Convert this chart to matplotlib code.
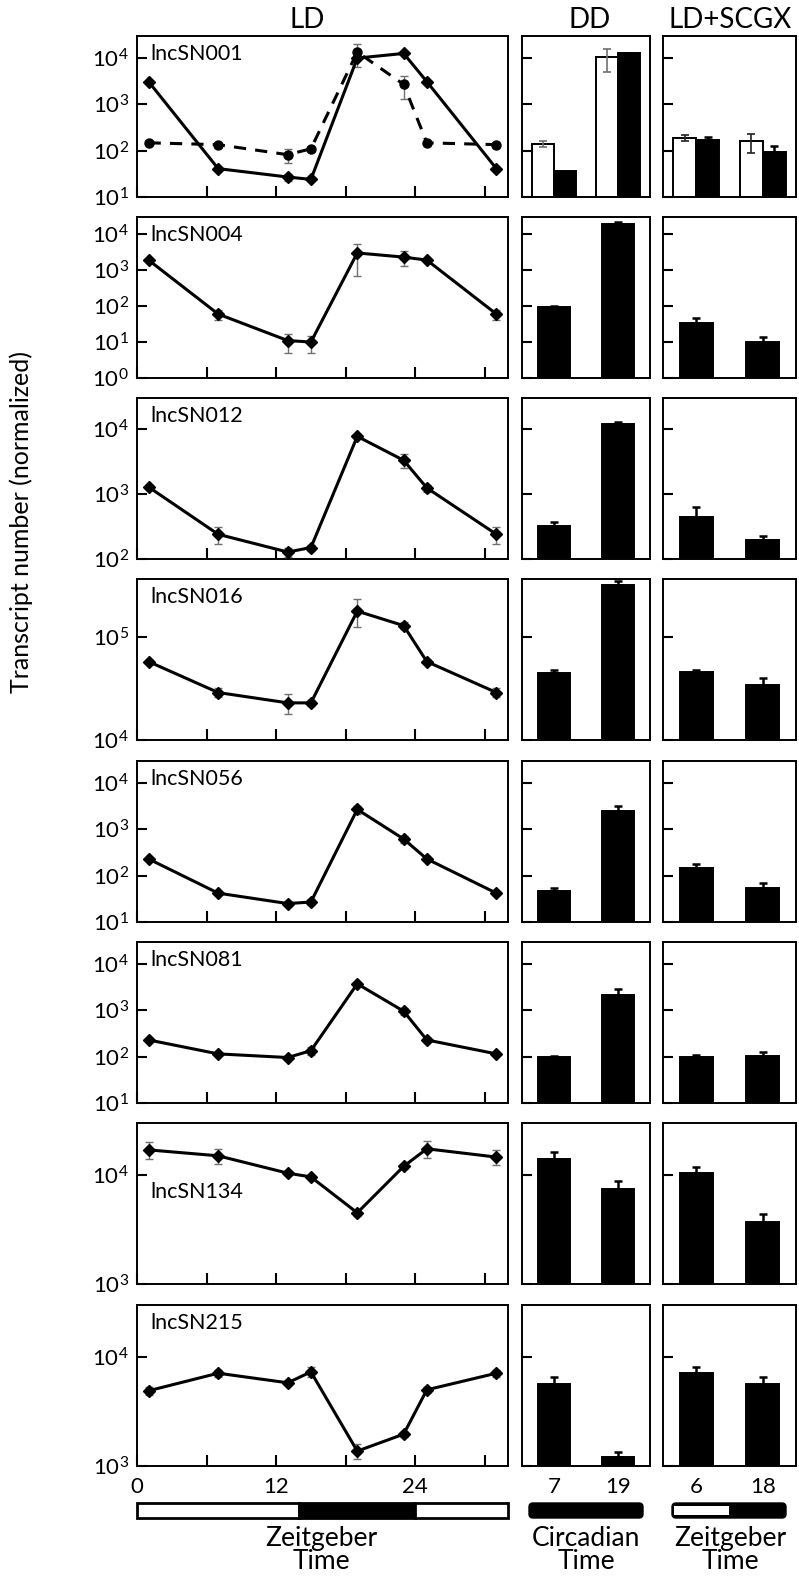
import matplotlib.pyplot as plt
from matplotlib.ticker import NullLocator
from matplotlib.patches import FancyBboxPatch, Rectangle

plt.rcParams['font.family'] = ['Lato', 'DejaVu Sans']

# sampling times
zt = [1, 7, 13, 15, 19, 23, 25, 31]
dd_ct = [7, 19]
sc_zt = [6, 18]
genes = ['lncSN001', 'lncSN004', 'lncSN012', 'lncSN016',
         'lncSN056', 'lncSN081', 'lncSN134', 'lncSN215']

# LD time course (mean, sd)
ld_001 = [3100, 41, 27, 24, 10000, 12600, 3100, 41]
ld_001_err = [150, 4, 5, 2, 400, 500, 150, 4]
ld_001_b = [148, 135, 82, 110, 13500, 2700, 148, 135]      # dashed series
ld_001_b_err = [8, 8, 28, 8, 7000, 1400, 8, 8]
ld_004 = [1900, 60, 11, 10, 3000, 2300, 1900, 60]
ld_004_err = [100, 20, 6, 5, 2300, 1000, 100, 20]
ld_012 = [1280, 240, 128, 150, 7700, 3300, 1240, 240]
ld_012_err = [100, 70, 20, 15, 300, 800, 150, 70]
ld_016 = [58000, 29000, 23000, 23000, 180000, 130000, 58000, 29000]
ld_016_err = [2000, 3000, 5000, 1500, 55000, 10000, 2000, 3000]
ld_056 = [230, 42, 25, 27, 2700, 620, 230, 42]
ld_056_err = [10, 3, 3, 4, 550, 110, 10, 3]
ld_081 = [230, 115, 96, 135, 3750, 960, 230, 115]
ld_081_err = [10, 8, 8, 25, 200, 150, 10, 8]
ld_134 = [17000, 15000, 10400, 9600, 4500, 12000, 17400, 14600]
ld_134_err = [3000, 2500, 500, 400, 300, 700, 3000, 2300]
ld_215 = [4900, 7100, 5800, 7300, 1370, 1960, 5000, 7100]
ld_215_err = [400, 500, 300, 800, 210, 100, 300, 500]

# DD bars (CT7, CT19)
dd_001_w = [140, 10500]
dd_001_w_err = [20, 5500]
dd_001 = [36, 12600]
dd_001_err = [0, 400]
dd_004 = [95, 19000]
dd_004_err = [3, 2500]
dd_012 = [320, 12000]
dd_012_err = [50, 600]
dd_016 = [45000, 325000]
dd_016_err = [3000, 30000]
dd_056 = [46, 2520]
dd_056_err = [7, 680]
dd_081 = [100, 2200]
dd_081_err = [3, 700]
dd_134 = [14000, 7500]
dd_134_err = [2400, 1300]
dd_215 = [5600, 1210]
dd_215_err = [900, 140]

# LD+SCGX bars (ZT6, ZT18)
sc_001_w = [190, 160]
sc_001_w_err = [28, 70]
sc_001 = [170, 95]
sc_001_err = [30, 32]
sc_004 = [34, 10]
sc_004_err = [12, 4]
sc_012 = [440, 195]
sc_012_err = [190, 30]
sc_016 = [46000, 34500]
sc_016_err = [2000, 5500]
sc_056 = [148, 53]
sc_056_err = [32, 15]
sc_081 = [100, 102]
sc_081_err = [10, 26]
sc_134 = [10400, 3700]
sc_134_err = [1400, 700]
sc_215 = [7100, 5600]
sc_215_err = [1000, 1000]

# axis ranges and decade ticks per gene
ylims = [(10, 3e4), (1, 3e4), (100, 3e4), (1e4, 3.7e5),
         (10, 3e4), (10, 3e4), (1e3, 3e4), (1e3, 3e4)]
ydecades = [[1, 2, 3, 4], [0, 1, 2, 3, 4], [2, 3, 4], [4, 5],
            [1, 2, 3, 4], [1, 2, 3, 4], [3, 4], [3, 4]]

# light schedules (start, end, light?)
ld_schedule = [(0, 14, True), (14, 24, False), (24, 32, True)]
dd_schedule = [(0, 24, False)]
sc_schedule = [(0, 12, True), (12, 24, False)]

ld_rows = [ld_001, ld_004, ld_012, ld_016, ld_056, ld_081, ld_134, ld_215]
ld_errs = [ld_001_err, ld_004_err, ld_012_err, ld_016_err,
           ld_056_err, ld_081_err, ld_134_err, ld_215_err]
dd_rows = [dd_001, dd_004, dd_012, dd_016, dd_056, dd_081, dd_134, dd_215]
dd_errs = [dd_001_err, dd_004_err, dd_012_err, dd_016_err,
           dd_056_err, dd_081_err, dd_134_err, dd_215_err]
sc_rows = [sc_001, sc_004, sc_012, sc_016, sc_056, sc_081, sc_134, sc_215]
sc_errs = [sc_001_err, sc_004_err, sc_012_err, sc_016_err,
           sc_056_err, sc_081_err, sc_134_err, sc_215_err]

W, H = 799, 1582
fig = plt.figure(figsize=(W / 100, H / 100), dpi=100)


def px_axes(x0, y0, w, h):
    return fig.add_axes([x0 / W, 1 - (y0 + h) / H, w / W, h / H])


def style(ax, lo, hi, decades, labels):
    ax.set_yscale('log')
    ax.set_ylim(lo, hi)
    ax.set_yticks([10.0 ** d for d in decades])
    if labels:
        ax.set_yticklabels([r'$\mathregular{10^{%d}}$' % d for d in decades])
    else:
        ax.set_yticklabels([])
    ax.yaxis.set_minor_locator(NullLocator())
    ax.tick_params(axis='y', direction='in', length=7, width=1.5,
                   labelsize=16, pad=6)
    for s in ax.spines.values():
        s.set_linewidth(1.4)


def bars(ax, pos, vals, errs, lo, color, width, ecolor, both):
    for p, v, e in zip(pos, vals, errs):
        ax.bar(p, v - lo, bottom=lo, width=width, color=color,
               edgecolor='black', linewidth=1.4, zorder=2)
        if e > 0:
            yerr = [[e], [e]] if both else [[0], [e]]
            ax.errorbar(p, v, yerr=yerr, fmt='none', ecolor=ecolor,
                        elinewidth=1.8 if not both else 1.2, capsize=3,
                        capthick=1.8 if not both else 1.2, zorder=3)


row_tops = [36, 217, 398, 579, 761, 942, 1123, 1305]
row_h = 161
bar_pos = [1, 3]

for i, gene in enumerate(genes):
    top = row_tops[i]
    lo, hi = ylims[i]

    # LD time course
    ax = px_axes(137, top, 371, row_h)
    ax.errorbar(zt, ld_rows[i], yerr=ld_errs[i], fmt='-D', color='black',
                ms=6.5, lw=2.2, ecolor='#707070', elinewidth=1, capsize=3,
                zorder=3)
    if i == 0:
        ax.errorbar(zt, ld_001_b, yerr=ld_001_b_err, fmt='--o',
                    color='black', ms=6.5, lw=2.2, dashes=(4, 3),
                    ecolor='#707070', elinewidth=1, capsize=3, zorder=3)
    ax.set_xlim(0, 32)
    ax.set_xticks([0, 6, 12, 18, 24, 30])
    if i == len(genes) - 1:
        ax.set_xticklabels(['0', '', '12', '', '24', ''])
    else:
        ax.set_xticklabels([])
    ax.tick_params(axis='x', direction='in', length=8, width=1.5,
                   labelsize=16, pad=8)
    style(ax, lo, hi, ydecades[i], True)
    ty = 0.57 if gene == 'lncSN134' else 0.89
    ax.text(0.035, ty, gene, transform=ax.transAxes, fontsize=15.5,
            va='center', ha='left', zorder=5,
            bbox=dict(facecolor='white', edgecolor='none', pad=0.5))

    # DD bars
    ax2 = px_axes(522, top, 128, row_h)
    if i == 0:
        bars(ax2, [p - 0.345 for p in bar_pos], dd_001_w, dd_001_w_err, lo,
             'white', 0.69, '#707070', True)
        bars(ax2, [p + 0.345 for p in bar_pos], dd_rows[i], dd_errs[i], lo,
             'black', 0.69, 'black', False)
    else:
        bars(ax2, bar_pos, dd_rows[i], dd_errs[i], lo, 'black', 1.0,
             'black', False)
    ax2.set_xlim(0, 4)
    if i == len(genes) - 1:
        ax2.set_xticks(bar_pos)
        ax2.set_xticklabels([str(c) for c in dd_ct])
        ax2.tick_params(axis='x', length=0, labelsize=16, pad=8)
    else:
        ax2.set_xticks([])
    style(ax2, lo, hi, ydecades[i], False)

    # LD+SCGX bars
    ax3 = px_axes(663, top, 133, row_h)
    if i == 0:
        bars(ax3, [p - 0.345 for p in bar_pos], sc_001_w, sc_001_w_err, lo,
             'white', 0.69, '#222222', True)
        bars(ax3, [p + 0.345 for p in bar_pos], sc_rows[i], sc_errs[i], lo,
             'black', 0.69, 'black', False)
    else:
        bars(ax3, bar_pos, sc_rows[i], sc_errs[i], lo, 'black', 1.0,
             'black', False)
    ax3.set_xlim(0, 4)
    if i == len(genes) - 1:
        ax3.set_xticks(bar_pos)
        ax3.set_xticklabels([str(z) for z in sc_zt])
        ax3.tick_params(axis='x', length=0, labelsize=16, pad=8)
    else:
        ax3.set_xticks([])
    style(ax3, lo, hi, ydecades[i], False)


# light / dark bars
def schedule_bar(x0, w, sched, rounded):
    ax = px_axes(x0, 1503, w, 15)
    end = sched[-1][1]
    ax.set_xlim(0, end)
    ax.set_ylim(0, 1)
    ax.axis('off')
    if rounded:
        asp = (w / end) / 15
        ax.add_patch(FancyBboxPatch((0, 0), end, 1,
                                    boxstyle='round,pad=0,rounding_size=%g' % (4 / (w / end)),
                                    mutation_aspect=asp, facecolor='black',
                                    edgecolor='black', clip_on=False))
        for a, b, light in sched:
            if light:
                ax.add_patch(Rectangle((a + 1.5 * end / w, 0.22),
                                       b - a - 1.5 * end / w, 0.56,
                                       facecolor='white', edgecolor='none'))
    else:
        for a, b, light in sched:
            ax.barh(0.5, b - a, left=a, height=1,
                    color='white' if light else 'black',
                    edgecolor='black', linewidth=2, clip_on=False)


schedule_bar(137, 371, ld_schedule, False)
schedule_bar(529, 114, dd_schedule, True)
schedule_bar(672, 114, sc_schedule, True)

# titles and labels
fig.text(307 / W, 1 - 20 / H, 'LD', ha='center', va='center', fontsize=20)
fig.text(590 / W, 1 - 20 / H, 'DD', ha='center', va='center', fontsize=20)
fig.text(730 / W, 1 - 20 / H, 'LD+SCGX', ha='center', va='center', fontsize=20)
fig.text(21 / W, 1 - 522 / H, 'Transcript number (normalized)', rotation=90,
         ha='center', va='center', fontsize=18)
fig.text(321 / W, 1 - 1550 / H, 'Zeitgeber\nTime', ha='center', va='center',
         fontsize=19, linespacing=0.9)
fig.text(586 / W, 1 - 1550 / H, 'Circadian\nTime', ha='center', va='center',
         fontsize=19, linespacing=0.9)
fig.text(730 / W, 1 - 1550 / H, 'Zeitgeber\nTime', ha='center', va='center',
         fontsize=19, linespacing=0.9)

fig.savefig('out.png', dpi=100)
